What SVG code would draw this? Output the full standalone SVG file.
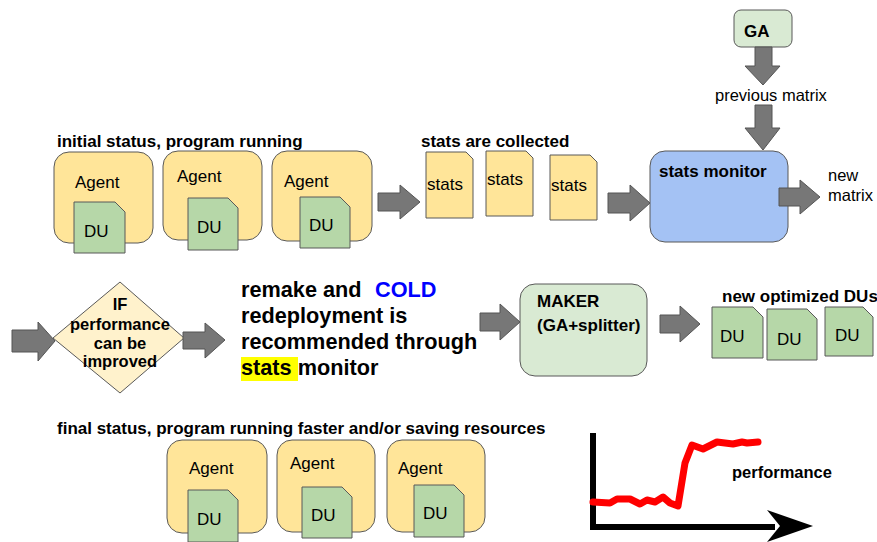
<svg xmlns="http://www.w3.org/2000/svg" width="877" height="542" viewBox="0 0 877 542">
<style>
.agent{fill:#ffe599;stroke:#595959;stroke-width:1}
.du{fill:#b6d7a8;stroke:#595959;stroke-width:1}
.doc{fill:#ffe599;stroke:#595959;stroke-width:1}
.arr{fill:#777777;stroke:#555555;stroke-width:1}
.t{font-family:"Liberation Sans",Arial,sans-serif;fill:#000}
.b{font-weight:bold}
.ag{font-size:17px}
.du-t{font-size:17px}
.title{font-size:17px;font-weight:bold}
.lbl{font-size:17px;font-weight:bold}
.big{font-size:21.7px;font-weight:bold}
.blue{fill:#0000ff}
</style>
<rect width="877" height="542" fill="#fff"/>

<!-- initial status -->
<text class="t title" x="57" y="147">initial status, program running</text>
<g id="agent1"><rect class="agent" x="54" y="152" width="99" height="91" rx="15"/><text class="t ag" x="75" y="188">Agent</text>
<path class="du" d="M74,202 H115 L125,212 V253 H74 Z"/><text class="t du-t" x="84" y="237">DU</text></g>
<g id="agent2"><rect class="agent" x="163" y="151" width="99" height="89" rx="15"/><text class="t ag" x="177" y="182">Agent</text>
<path class="du" d="M188,198 H228 L238,208 V250 H188 Z"/><text class="t du-t" x="197" y="233">DU</text></g>
<g id="agent3"><rect class="agent" x="272" y="151" width="100" height="90" rx="15"/><text class="t ag" x="284" y="187">Agent</text>
<path class="du" d="M300,197 H340 L350,207 V248 H300 Z"/><text class="t du-t" x="309" y="231">DU</text></g>

<text class="t title" x="421" y="147">stats are collected</text>
<g id="stats1"><path class="doc" d="M426,152 H466 L473,159 V218 H426 Z"/><text class="t ag" x="427" y="190">stats</text></g>
<g id="stats2"><path class="doc" d="M486,151 H526 L533,158 V216 H486 Z"/><text class="t ag" x="487" y="185">stats</text></g>
<g id="stats3"><path class="doc" d="M550,155 H590 L597,162 V220 H550 Z"/><text class="t ag" x="551" y="191">stats</text></g>

<g id="monitor"><rect x="650" y="151" width="138" height="91" rx="15" fill="#a4c2f4" stroke="#595959"/><text class="t lbl" x="659" y="177">stats monitor</text></g>
<text class="t" font-size="16.5" x="828" y="181">new</text>
<text class="t" font-size="16.5" x="828" y="201">matrix</text>

<g id="ga"><rect x="734" y="10" width="58" height="37" rx="7" fill="#d9ead3" stroke="#595959"/><text class="t lbl" x="744" y="37">GA</text></g>
<text class="t" font-size="16.5" x="715" y="101">previous matrix</text>

<!-- middle row -->
<g id="decision"><path d="M120,282 L184,338 L120,393 L53,338 Z" fill="#fff2cc" stroke="#595959"/>
<g class="t b" font-size="16.5" text-anchor="middle"><text x="120" y="310">IF</text><text x="120" y="330">performance</text><text x="120" y="349">can be</text><text x="120" y="367">improved</text></g></g>

<g id="note"><rect x="241" y="357" width="57" height="24" fill="#ffff00"/>
<text class="t big" x="241" y="297">remake and</text><text class="t big blue" x="375" y="297">COLD</text>
<text class="t big" x="241" y="323">redeployment is</text>
<text class="t big" x="241" y="349">recommended through</text>
<text class="t big" x="241" y="375">stats monitor</text></g>

<g id="maker"><rect x="520" y="284" width="127" height="92" rx="15" fill="#d9ead3" stroke="#595959"/>
<text class="t lbl" x="537" y="307">MAKER</text><text class="t lbl" x="537" y="331">(GA+splitter)</text></g>

<text class="t title" x="722" y="302">new optimized DUs</text>
<g id="newdu1"><path class="du" d="M712,307 H753 L763,317 V358 H712 Z"/><text class="t du-t" x="720" y="342">DU</text></g>
<g id="newdu2"><path class="du" d="M767,309 H807 L817,319 V360 H767 Z"/><text class="t du-t" x="777" y="345">DU</text></g>
<g id="newdu3"><path class="du" d="M825,307 H863 L873,317 V356 H825 Z"/><text class="t du-t" x="835" y="341">DU</text></g>

<!-- final status -->
<text class="t title" x="57" y="434">final status, program running faster and/or saving resources</text>
<g id="fagent1"><rect class="agent" x="167" y="440" width="100" height="93" rx="15"/><text class="t ag" x="189" y="474">Agent</text>
<path class="du" d="M188,490 H228 L238,500 V542 H188 Z"/><text class="t du-t" x="197" y="525">DU</text></g>
<g id="fagent2"><rect class="agent" x="277" y="440" width="98" height="92" rx="15"/><text class="t ag" x="290" y="469">Agent</text>
<path class="du" d="M302,487 H342 L352,497 V538 H302 Z"/><text class="t du-t" x="311" y="521">DU</text></g>
<g id="fagent3"><rect class="agent" x="387" y="440" width="98" height="92" rx="15"/><text class="t ag" x="398" y="474">Agent</text>
<path class="du" d="M414,485 H454 L464,495 V537 H414 Z"/><text class="t du-t" x="423" y="519">DU</text></g>

<!-- chart -->
<g id="chart">
<path d="M593,433 V527 H775" fill="none" stroke="#000" stroke-width="6"/>
<path d="M767,510 L813,526 L767,542 L780,526 Z" fill="#000"/>
<path d="M593,502 L610,503 L617,499 L630,499 L640,504 L647,500 L655,502 L663,497 L670,503 L678,506 L685,463 L692,445 L703,449 L717,442 L733,444 L742,442 L747,443 L758,442" fill="none" stroke="#ff0000" stroke-width="7" stroke-linejoin="round" stroke-linecap="round"/>
<text class="t b" font-size="16.5" x="732" y="478">performance</text>
</g>

<!-- connectors -->
<g id="connectors">
<path class="arr" d="M378,193 H400 V185 L420,202 L400,219 V211 H378 Z"/>
<path class="arr" d="M608,193 H630 V185 L650,203 L630,221 V213 H608 Z"/>
<path class="arr" d="M779,188 H800 V180 L820,197 L800,214 V206 H779 Z"/>
<path class="arr" d="M755,47 H772 V66 H780 L763,85 L745,66 H755 Z"/>
<path class="arr" d="M755,105 H772 V128 H780 L763,150 L745,128 H755 Z"/>
<path class="arr" d="M12,330 H38 V322 L55,341 L38,361 V352 H12 Z"/>
<path class="arr" d="M183,332 H205 V323 L225,340 L205,358 V349 H183 Z"/>
<path class="arr" d="M480,313 H500 V304 L520,322 L500,340 V331 H480 Z"/>
<path class="arr" d="M660,315 H680 V306 L700,324 L680,342 V333 H660 Z"/>
</g>
</svg>
